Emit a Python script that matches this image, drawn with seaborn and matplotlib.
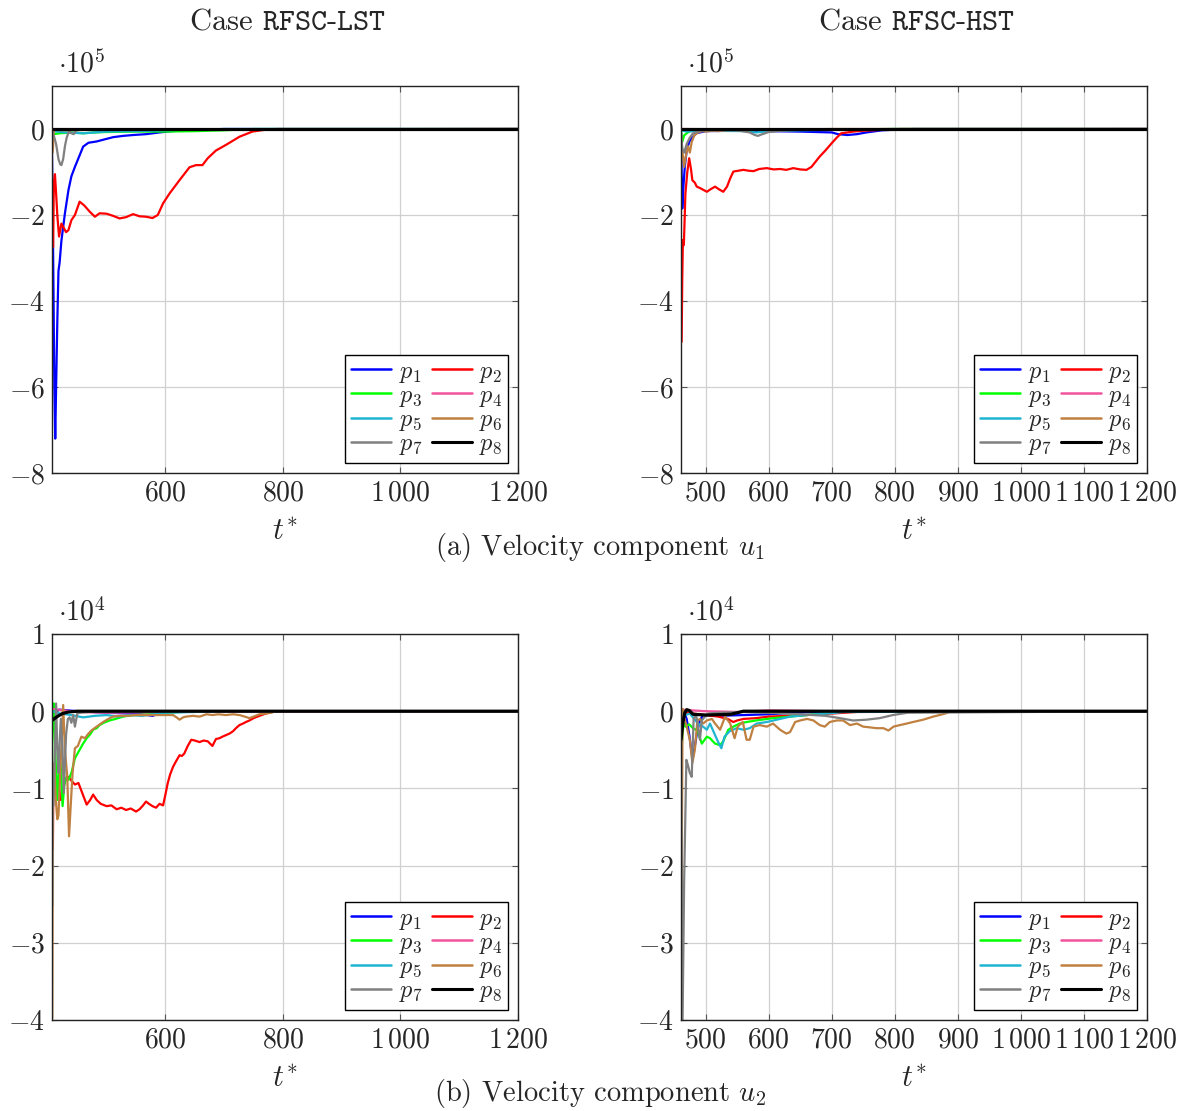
import matplotlib
matplotlib.use('Agg')
import matplotlib.pyplot as plt
from matplotlib.lines import Line2D
import pandas as pd
import seaborn as sns

# probes and colours (pgfplots style)
probes = ['p1', 'p2', 'p3', 'p4', 'p5', 'p6', 'p7', 'p8']
colors = ['#0000ff', '#ff0000', '#00ff00', '#f2529d', '#1fb4d2', '#bf8040', '#808080', '#000000']

# ---------------- (a) u1, case RFSC-LST  (values in 1e5) ----------------
tl_p1_t = [407, 409, 411, 412.5, 414, 416, 418, 420, 423, 429, 435, 440, 446, 452, 460, 469, 483, 494, 511, 528, 545, 567, 590, 610, 650, 700, 1200]
tl_p1_v = [-0.57, -3.0, -6.0, -7.2, -6.0, -4.5, -3.3, -3.1, -2.6, -1.96, -1.42, -1.1, -0.88, -0.68, -0.41, -0.32, -0.29, -0.25, -0.19, -0.16, -0.14, -0.12, -0.08, -0.05, -0.02, 0.0, 0.0]
tl_p2_t = [409, 409.8, 410.5, 412, 414, 416, 419, 423, 427, 431, 435, 440, 446, 454, 462, 471, 480, 488, 500, 511,
           522, 533, 545, 556, 567, 578, 587, 596, 607, 624, 641, 652, 663, 672, 686, 703, 726, 748, 771, 790, 1200]
tl_p2_v = [-2.74, -1.6, -1.2, -1.05, -1.5, -2.0, -2.5, -2.2, -2.3, -2.4, -2.35, -2.12, -2.0, -1.69, -1.78, -1.92, -2.04, -1.96, -1.97, -2.02,
           -2.08, -2.05, -1.98, -2.03, -2.04, -2.07, -2.0, -1.73, -1.5, -1.19, -0.89, -0.84, -0.84, -0.68, -0.5, -0.37, -0.18, -0.06, -0.015, 0.0, 0.0]
tl_p3_t = [407, 410, 420, 440, 460, 480, 500, 550, 600, 650, 700, 750, 1200]
tl_p3_v = [-0.05, -0.12, -0.1, -0.08, -0.1, -0.08, -0.07, -0.06, -0.06, -0.05, -0.03, 0.0, 0.0]
tl_p4_t = [407, 600, 1200]
tl_p4_v = [-0.02, -0.01, 0.0]
tl_p5_t = [407, 430, 460, 480, 500, 550, 600, 700, 1200]
tl_p5_v = [-0.05, -0.08, -0.1, -0.08, -0.06, -0.05, -0.03, 0.0, 0.0]
tl_p6_t = [408, 408.8, 409.5, 411, 430, 500, 1200]
tl_p6_v = [-0.55, -0.4, -0.1, -0.02, -0.03, -0.01, 0.0]
tl_p7_t = [407, 410, 414, 418, 421, 423, 426, 429, 432, 436, 440, 444, 448, 455, 500, 1200]
tl_p7_v = [-0.05, -0.15, -0.35, -0.7, -0.82, -0.84, -0.7, -0.4, -0.2, -0.05, -0.1, -0.12, -0.03, -0.02, -0.01, 0.0]
tl_p8_t = [407, 1200]
tl_p8_v = [0.0, 0.0]

# ---------------- (a) u1, case RFSC-HST  (values in 1e5) ----------------
tr_p1_t = [461, 462, 463, 465, 467, 470, 474, 479, 485, 500, 550, 600, 650, 700, 710, 725, 740, 755, 780, 830, 1200]
tr_p1_v = [0.0, -1.0, -1.85, -1.3, -0.88, -0.5, -0.3, -0.2, -0.1, -0.05, -0.04, -0.05, -0.06, -0.08, -0.12, -0.14, -0.12, -0.08, -0.03, 0.0, 0.0]
tr_p2_t = [462, 463, 464, 465.5, 468, 471, 474, 477, 479, 483, 486, 492, 497, 502, 508, 515, 521, 528, 534, 539,
           544, 552, 560, 568, 576, 585, 597, 608, 618, 628, 639, 650, 660, 668, 675, 681, 690, 700, 708, 715,
           725, 734, 750, 766, 790, 810, 1200]
tr_p2_v = [-4.95, -3.5, -2.58, -2.7, -1.5, -1.0, -0.68, -0.95, -1.19, -1.25, -1.34, -1.38, -1.42, -1.46, -1.4, -1.34, -1.4, -1.46, -1.34, -1.15,
           -0.99, -0.97, -0.95, -0.97, -0.98, -0.93, -0.91, -0.94, -0.93, -0.95, -0.91, -0.94, -0.95, -0.88, -0.75, -0.64, -0.5, -0.33, -0.2, -0.1,
           -0.08, -0.06, -0.04, -0.03, -0.01, 0.0, 0.0]
tr_p3_t = [461, 463, 466, 470, 475, 480, 500, 600, 700, 800, 1200]
tr_p3_v = [-0.05, -0.3, -0.15, -0.1, -0.05, -0.03, -0.02, -0.02, -0.01, 0.0, 0.0]
tr_p4_t = [461, 600, 1200]
tr_p4_v = [0.0, -0.01, 0.0]
tr_p5_t = [461, 470, 500, 560, 580, 600, 650, 700, 800, 1200]
tr_p5_v = [-0.03, -0.06, -0.04, -0.05, -0.08, -0.05, -0.03, -0.02, 0.0, 0.0]
tr_p6_t = [461, 463, 466, 469, 472, 475, 478, 482, 488, 495, 500, 510, 520, 530, 540, 550, 560, 600, 650, 700, 1200]
tr_p6_v = [-0.1, -0.5, -0.88, -0.6, -0.4, -0.55, -0.3, -0.15, -0.08, -0.05, -0.06, -0.04, -0.05, -0.03, -0.02, -0.03, -0.02, -0.02, -0.01, 0.0, 0.0]
tr_p7_t = [461, 463, 466, 470, 475, 480, 490, 500, 550, 570, 578, 583, 590, 600, 620, 650, 700, 800, 1200]
tr_p7_v = [-0.1, -0.45, -0.55, -0.35, -0.2, -0.1, -0.05, -0.03, -0.03, -0.08, -0.14, -0.16, -0.12, -0.07, -0.04, -0.02, -0.01, 0.0, 0.0]
tr_p8_t = [461, 1200]
tr_p8_v = [0.0, 0.0]

# ---------------- (b) u2, case RFSC-LST  (values in 1e4) ----------------
bl_p1_t = [407, 420, 450, 500, 540, 560, 578, 590, 600, 650, 700, 1200]
bl_p1_v = [0.0, 0.02, 0.0, -0.02, -0.03, -0.04, -0.06, -0.03, -0.01, 0.0, 0.0, 0.0]
bl_p2_t = [408.5, 409.3, 410, 414, 418, 422, 426, 430, 435, 440,
           446, 452, 458, 466, 472, 477, 483, 490, 500, 508,
           517, 525, 533, 541, 550, 556, 562, 567, 572, 578,
           584, 590, 596, 600, 604, 608, 613, 618, 624, 628,
           632, 638, 644, 650, 658, 665, 672, 676, 680, 686,
           692, 697, 703, 709, 715, 720, 726, 732, 737, 743,
           750, 760, 771, 780, 790, 1200]
bl_p2_v = [-1.79, -0.85, -0.9, -1.1, -0.95, -1.15, -1.0, -0.88, -0.85, -0.9,
           -0.95, -0.93, -1.05, -1.21, -1.15, -1.08, -1.15, -1.2, -1.23, -1.22,
           -1.27, -1.25, -1.28, -1.26, -1.3, -1.27, -1.22, -1.17, -1.2, -1.23,
           -1.25, -1.2, -1.22, -1.08, -0.93, -0.82, -0.72, -0.65, -0.57, -0.58,
           -0.55, -0.45, -0.37, -0.38, -0.4, -0.38, -0.39, -0.42, -0.45, -0.36,
           -0.35, -0.33, -0.31, -0.29, -0.26, -0.22, -0.18, -0.16, -0.14, -0.12,
           -0.09, -0.06, -0.03, -0.01, 0.0, 0.0]
bl_p3_t = [407, 408, 410, 413, 416, 420, 422, 425, 428, 432,
           435, 440, 446, 454, 460, 466, 472, 477, 483, 488,
           495, 505, 515, 528, 545, 570, 600, 650, 1200]
bl_p3_v = [-0.82, 0.05, 0.1, -0.6, -1.15, -0.6, -0.7, -1.23, -0.95, -0.85,
           -0.89, -0.8, -0.61, -0.5, -0.42, -0.35, -0.3, -0.24, -0.22, -0.18,
           -0.15, -0.12, -0.1, -0.07, -0.05, -0.04, -0.02, 0.0, 0.0]
bl_p4_t = [407, 450, 500, 600, 1200]
bl_p4_v = [0.03, -0.01, -0.02, -0.01, 0.0]
bl_p5_t = [407, 420, 440, 460, 480, 500, 520, 540, 560, 580, 600, 700, 1200]
bl_p5_v = [0.0, -0.03, -0.05, -0.08, -0.06, -0.05, -0.07, -0.05, -0.06, -0.04, -0.02, 0.0, 0.0]
bl_p6_t = [407.5, 408.2, 409, 411, 413, 416, 418, 421, 424, 426,
           429, 433, 436, 439, 442, 446, 451, 457, 463, 468,
           474, 483, 494, 503, 511, 522, 534, 550, 573, 595,
           613, 619, 624, 630, 635, 647, 658, 670, 680, 690,
           703, 715, 726, 735, 743, 750, 760, 771, 780, 788, 1200]
bl_p6_v = [-3.98, -1.5, -0.7, -0.67, -1.1, -1.4, -1.35, -0.8, -0.3, 0.08,
           -0.5, -0.85, -1.62, -1.2, -0.8, -0.48, -0.45, -0.33, -0.35, -0.3,
           -0.25, -0.2, -0.14, -0.1, -0.07, -0.06, -0.06, -0.05, -0.05, -0.05,
           -0.05, -0.08, -0.11, -0.08, -0.07, -0.06, -0.07, -0.04, -0.05, -0.04,
           -0.05, -0.04, -0.05, -0.07, -0.09, -0.07, -0.04, -0.03, -0.02, 0.0, 0.0]
bl_p7_t = [407.5, 408, 409, 412, 414, 416, 418, 420, 422, 425, 427, 431, 434, 437, 440, 443, 446, 450, 455, 470, 520, 600, 1200]
bl_p7_v = [-2.52, -0.8, -1.23, -0.5, 0.1, -0.5, -0.8, -0.4, -0.1, -0.5, -1.06, -0.3, -0.1, -0.08, -0.15, -0.05, -0.2, -0.03, -0.02, -0.01, -0.01, 0.0, 0.0]
bl_p8_t = [407, 412, 418, 425, 435, 450, 1200]
bl_p8_v = [-0.12, -0.09, -0.06, -0.03, -0.01, 0.0, 0.0]

# ---------------- (b) u2, case RFSC-HST  (values in 1e4) ----------------
br_p1_t = [461, 465, 470, 474, 478, 480, 483, 487, 491, 496, 502, 520, 560, 600, 640, 700, 1200]
br_p1_v = [-0.1, 0.01, -0.1, -0.3, -0.55, -0.59, -0.45, -0.25, -0.12, -0.05, -0.05, -0.06, -0.05, -0.04, -0.02, 0.0, 0.0]
br_p2_t = [461, 480, 500, 520, 535, 544, 550, 560, 580, 600, 630, 660, 700, 740, 1200]
br_p2_v = [-0.01, -0.03, -0.05, -0.07, -0.1, -0.14, -0.12, -0.1, -0.09, -0.07, -0.06, -0.05, -0.03, -0.01, 0.0]
br_p3_t = [461, 462, 465, 468, 474, 480, 487, 494, 502, 507, 515, 523, 528, 536, 544, 554, 565, 580, 607, 634, 660, 686, 720, 1200]
br_p3_v = [-0.3, -0.46, -0.15, -0.2, -0.17, -0.22, -0.25, -0.42, -0.33, -0.35, -0.42, -0.44, -0.39, -0.24, -0.2, -0.16, -0.14, -0.12, -0.09, -0.07, -0.05, -0.03, 0.0, 0.0]
br_p4_t = [461, 500, 550, 600, 700, 1200]
br_p4_v = [0.02, 0.0, -0.01, 0.01, 0.0, 0.0]
br_p5_t = [461, 475, 488, 496, 502, 507, 515, 520, 525, 530, 538, 549, 560, 570, 581, 597, 634, 660, 692, 720, 1200]
br_p5_v = [-0.07, -0.03, -0.16, -0.2, -0.24, -0.16, -0.31, -0.4, -0.48, -0.33, -0.26, -0.22, -0.24, -0.22, -0.16, -0.14, -0.07, -0.05, -0.03, -0.01, 0.0]
br_p6_t = [461.8, 462.5, 463.5, 465, 470, 475, 479, 483, 487, 491,
           496, 502, 510, 515, 523, 531, 539, 546, 551, 559,
           565, 570, 576, 586, 597, 607, 618, 628, 634, 642,
           650, 661, 671, 681, 689, 697, 708, 718, 729, 740,
           750, 761, 771, 782, 790, 798, 808, 819, 829, 845,
           861, 871, 880, 890, 1200]
br_p6_v = [-3.98, -1.5, 0.03, -0.05, -0.2, -0.37, -0.67, -0.5, -0.12, -0.1,
           -0.16, -0.12, -0.1, -0.16, -0.24, -0.07, -0.16, -0.35, -0.2, -0.14,
           -0.37, -0.37, -0.2, -0.18, -0.2, -0.16, -0.24, -0.29, -0.27, -0.14,
           -0.12, -0.1, -0.12, -0.18, -0.2, -0.14, -0.12, -0.12, -0.18, -0.16,
           -0.2, -0.21, -0.22, -0.22, -0.25, -0.2, -0.18, -0.16, -0.14, -0.11,
           -0.07, -0.05, -0.03, 0.0, 0.0]
br_p7_t = [461, 462, 463.5, 466, 469.5, 472, 475, 478, 481, 485, 488, 491, 494, 499, 504, 520, 560, 600, 650, 690, 713, 734, 755, 776, 797, 820, 1200]
br_p7_v = [0.0, -2.0, -4.0, -2.2, -0.63, -0.7, -0.8, -0.85, -0.1, -0.05, -0.2, -0.37, -0.12, -0.07, -0.03, -0.02, -0.01, -0.02, -0.04, -0.06, -0.09, -0.12, -0.11, -0.09, -0.05, -0.02, 0.0]
br_p8_t = [461, 462, 464, 467, 470, 474, 480, 500, 540, 560, 1200]
br_p8_v = [-0.37, -0.3, -0.15, -0.02, 0.02, 0.01, -0.04, -0.05, -0.04, 0.0, 0.0]

# tick labels
lst_xticks = [600, 800, 1000, 1200]
lst_xlabels = [r'$600$', r'$800$', r'$1\,000$', r'$1\,200$']
hst_xticks = [500, 600, 700, 800, 900, 1000, 1100, 1200]
hst_xlabels = [r'$500$', r'$600$', r'$700$', r'$800$', r'$900$', r'$1\,000$', r'$1\,100$', r'$1\,200$']
u1_yticks = [-8, -6, -4, -2, 0]
u1_ylabels = [r'$-8$', r'$-6$', r'$-4$', r'$-2$', r'$0$']
u2_yticks = [-4, -3, -2, -1, 0, 1]
u2_ylabels = [r'$-4$', r'$-3$', r'$-2$', r'$-1$', r'$0$', r'$1$']

sns.set_theme(style='whitegrid')
plt.rcParams['font.family'] = 'serif'
plt.rcParams['font.serif'] = ['cmr10', 'DejaVu Serif']
plt.rcParams['mathtext.fontset'] = 'cm'
plt.rcParams['axes.unicode_minus'] = False

FS = 20
W, H = 1183, 1111
fig = plt.figure(figsize=(W / 100, H / 100), dpi=100)


def add_ax(l, t, r, b):
    return fig.add_axes([l / W, 1 - b / H, (r - l) / W, (b - t) / H])


def panel(ax, series, xlim, ylim, xticks, xlabels, yticks, ylabels):
    df = pd.concat([pd.DataFrame({'t': t, 'v': v, 'probe': p})
                    for p, (t, v) in zip(probes, series)], ignore_index=True)
    sns.lineplot(data=df, x='t', y='v', hue='probe', hue_order=probes,
                 palette=dict(zip(probes, colors)), estimator=None, sort=False,
                 legend=False, linewidth=1.6, ax=ax)
    ax.lines[-1].set_linewidth(2.3)
    ax.set_xlim(*xlim)
    ax.set_ylim(*ylim)
    ax.set_xticks(xticks)
    ax.set_xticklabels(xlabels)
    ax.set_yticks(yticks)
    ax.set_yticklabels(ylabels)
    ax.set_xlabel('')
    ax.set_ylabel('')
    ax.set_facecolor('white')
    ax.set_axisbelow(True)
    ax.grid(True, color='#d0d0d0', lw=0.9)
    for s in ax.spines.values():
        s.set_color('#222222')
        s.set_linewidth(1.0)
    ax.tick_params(direction='in', length=4, width=0.8, color='#555555',
                   top=True, right=True, bottom=True, left=True,
                   labelsize=FS, pad=5)
    handles = [Line2D([], [], color=c, lw=2.2 if c == '#000000' else 1.8) for c in colors]
    labels = [rf'$p_{{{i + 1}}}$' for i in range(8)]
    order = [0, 2, 4, 6, 1, 3, 5, 7]
    leg = ax.legend([handles[i] for i in order], [labels[i] for i in order],
                    ncol=2, loc='lower right', fontsize=17.5, frameon=True,
                    fancybox=False, framealpha=1, edgecolor='black',
                    handlelength=1.65, handletextpad=0.3, columnspacing=0.4,
                    labelspacing=0.0, borderpad=0.25, borderaxespad=0.4)
    leg.get_frame().set_linewidth(1.0)


ax_tl = add_ax(52, 86, 518, 473)
ax_tr = add_ax(681, 86, 1147, 473)
ax_bl = add_ax(52, 634, 518, 1020)
ax_br = add_ax(681, 634, 1147, 1020)

panel(ax_tl, [(tl_p1_t, tl_p1_v), (tl_p2_t, tl_p2_v), (tl_p3_t, tl_p3_v), (tl_p4_t, tl_p4_v),
              (tl_p5_t, tl_p5_v), (tl_p6_t, tl_p6_v), (tl_p7_t, tl_p7_v), (tl_p8_t, tl_p8_v)],
      (407, 1200), (-8, 1), lst_xticks, lst_xlabels, u1_yticks, u1_ylabels)
panel(ax_tr, [(tr_p1_t, tr_p1_v), (tr_p2_t, tr_p2_v), (tr_p3_t, tr_p3_v), (tr_p4_t, tr_p4_v),
              (tr_p5_t, tr_p5_v), (tr_p6_t, tr_p6_v), (tr_p7_t, tr_p7_v), (tr_p8_t, tr_p8_v)],
      (461, 1200), (-8, 1), hst_xticks, hst_xlabels, u1_yticks, u1_ylabels)
panel(ax_bl, [(bl_p1_t, bl_p1_v), (bl_p2_t, bl_p2_v), (bl_p3_t, bl_p3_v), (bl_p4_t, bl_p4_v),
              (bl_p5_t, bl_p5_v), (bl_p6_t, bl_p6_v), (bl_p7_t, bl_p7_v), (bl_p8_t, bl_p8_v)],
      (407, 1200), (-4, 1), lst_xticks, lst_xlabels, u2_yticks, u2_ylabels)
panel(ax_br, [(br_p1_t, br_p1_v), (br_p2_t, br_p2_v), (br_p3_t, br_p3_v), (br_p4_t, br_p4_v),
              (br_p5_t, br_p5_v), (br_p6_t, br_p6_v), (br_p7_t, br_p7_v), (br_p8_t, br_p8_v)],
      (461, 1200), (-4, 1), hst_xticks, hst_xlabels, u2_yticks, u2_ylabels)

# titles, multipliers, axis labels, captions
fig.text(287 / W, 1 - 22 / H, r'Case $\mathtt{RFSC}$-$\mathtt{LST}$', ha='center', va='center', fontsize=22)
fig.text(916 / W, 1 - 22 / H, r'Case $\mathtt{RFSC}$-$\mathtt{HST}$', ha='center', va='center', fontsize=22)
for x0 in (58, 687):
    fig.text(x0 / W, 1 - 64 / H, r'$\cdot 10^{5}$', ha='left', va='center', fontsize=FS)
    fig.text(x0 / W, 1 - 612 / H, r'$\cdot 10^{4}$', ha='left', va='center', fontsize=FS)
for xc in (285, 914):
    fig.text(xc / W, 1 - 532 / H, r'$t^{*}$', ha='center', va='center', fontsize=FS + 2)
    fig.text(xc / W, 1 - 1079 / H, r'$t^{*}$', ha='center', va='center', fontsize=FS + 2)
fig.text(600 / W, 1 - 547 / H, r'(a) Velocity component $u_1$', ha='center', va='center', fontsize=20.5)
fig.text(600 / W, 1 - 1094 / H, r'(b) Velocity component $u_2$', ha='center', va='center', fontsize=20.5)

fig.savefig('out.png', dpi=100, facecolor='white')
